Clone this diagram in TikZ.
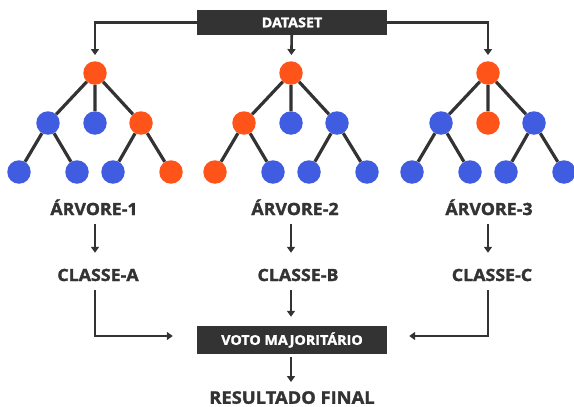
\documentclass[tikz,border=0pt]{standalone}
\usepackage{fontspec}
\setmainfont{Open Sans}[BoldFeatures={FakeBold=1.6,FakeStretch=1.06}]
\usetikzlibrary{arrows.meta,calc}
\definecolor{dk}{HTML}{333333}
\definecolor{orng}{HTML}{FF5419}
\definecolor{blu}{HTML}{405CE0}
\begin{document}
\begin{tikzpicture}[x=1pt,y=-1pt,
  dot/.style={circle,minimum size=23.5pt,inner sep=0pt},
  onode/.style={dot,fill=orng},
  bnode/.style={dot,fill=blu},
  edge/.style={draw=dk,line width=3.2pt},
  arr/.style={draw=dk,line width=2.6pt,-{Triangle[width=8pt,length=6pt]}},
  lbl/.style={inner sep=0pt,text height=12pt,text depth=0pt,text=dk,font=\bfseries\fontsize{16.8}{18}\selectfont},
  darkbox/.style={fill=dk,minimum width=190pt,text=white,inner sep=0pt,font=\bfseries\fontsize{13.5}{15}\selectfont}
]
\useasboundingbox (0,0) rectangle (574,407);
% top box
\node[darkbox,minimum height=25pt] (ds) at (292,22.5) {DATASET};
% trees
\foreach \t/\x/\ca/\cb/\cc/\cd/\ce/\cf/\cg in {
  1/95/bnode/bnode/onode/bnode/bnode/bnode/onode,
  2/291/onode/bnode/bnode/onode/bnode/bnode/bnode,
  3/488/bnode/onode/bnode/bnode/bnode/bnode/bnode}{
  \node[onode] (r\t) at (\x,73) {};
  \node[\ca] (m\t a) at (\x-47,123) {};
  \node[\cb] (m\t b) at (\x,123) {};
  \node[\cc] (m\t c) at (\x+46,123) {};
  \node[\cd] (l\t a) at (\x-76,172) {};
  \node[\ce] (l\t b) at (\x-18,172) {};
  \node[\cf] (l\t c) at (\x+18,172) {};
  \node[\cg] (l\t d) at (\x+76,172) {};
  \draw[edge] (r\t) -- (m\t a) (r\t) -- (m\t b) (r\t) -- (m\t c)
    (m\t a) -- (l\t a) (m\t a) -- (l\t b) (m\t c) -- (l\t c) (m\t c) -- (l\t d);
}
\draw[arr,shorten >=6pt] (ds) -| (r1);
\draw[arr,shorten >=6pt] (ds) -| (r3);
\draw[arr,shorten >=6pt] (ds) -- (r2);
% labels
\node[lbl] (a1) at (94,209) {ÁRVORE-1};
\node[lbl] (a2) at (295,209) {ÁRVORE-2};
\node[lbl] (a3) at (489,209) {ÁRVORE-3};
\node[lbl] (c1) at (98,275) {CLASSE-A};
\node[lbl] (c2) at (298,275) {CLASSE-B};
\node[lbl] (c3) at (492,275) {CLASSE-C};
\foreach \i in {1,2,3}{
  \draw[arr,shorten <=9pt,shorten >=16pt] (a\i.south -| r\i) -- (c\i.north -| r\i);
}
\node[darkbox,minimum height=28pt] (vm) at (292,340) {VOTO MAJORITÁRIO};
\node[lbl,text height=12.5pt,font=\bfseries\fontsize{17.3}{20}\selectfont] (rf) at (292,397.5) {RESULTADO FINAL};
\draw[arr,shorten <=9pt,shorten >=24pt] (c1.south -| r1) |- ([yshift=4pt]vm.west);
\draw[arr,shorten <=9pt,shorten >=22pt] (c3.south -| r3) |- ([yshift=4pt]vm.east);
\draw[arr,shorten <=9pt,shorten >=9pt] (c2.south -| r2) -- (vm.north -| r2);
\draw[arr,shorten <=3pt,shorten >=9pt] (vm.south -| r2) -- (rf.north -| r2);
\end{tikzpicture}
\end{document}
